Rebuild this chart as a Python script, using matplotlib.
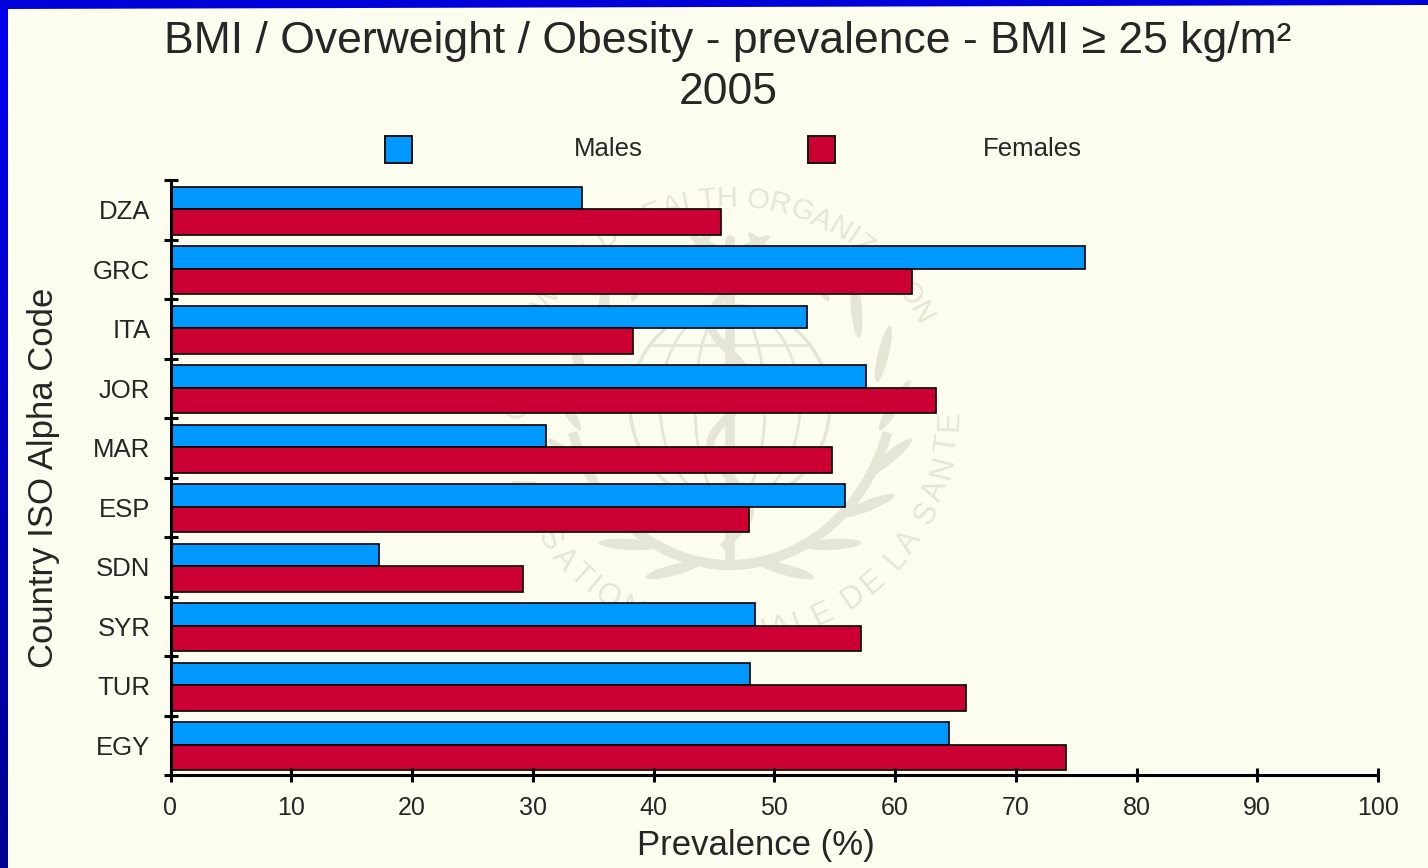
import numpy as np
import matplotlib.pyplot as plt
from matplotlib.colors import LinearSegmentedColormap
from matplotlib.patches import Rectangle, Polygon, Ellipse, Circle, Arc
from matplotlib.textpath import TextToPath
from matplotlib.font_manager import FontProperties

countries = ['DZA', 'GRC', 'ITA', 'JOR', 'MAR', 'ESP', 'SDN', 'SYR', 'TUR', 'EGY']
males = [34.1, 75.7, 52.7, 57.6, 31.1, 55.9, 17.3, 48.4, 48.0, 64.5]
females = [45.6, 61.4, 38.3, 63.4, 54.8, 47.9, 29.2, 57.2, 65.9, 74.2]
xticks = list(range(0, 101, 10))
series_names = ['Males', 'Females']

BG = '#FDFDEF'
BLUE = '#0099FF'
RED = '#CC0033'
TXT = '#262626'
MARK = '#E6E6D6'

plt.rcParams['font.family'] = ['Liberation Sans', 'DejaVu Sans']

W, H = 1428, 868
fig = plt.figure(figsize=(W / 100, H / 100), dpi=100, facecolor=BG)


def fx(x):
    return x / W


def fy(y):
    return 1 - y / H


# blue frame along the top and left edges
grad = np.linspace(0, 1, 256).reshape(-1, 1)
edge = fig.add_axes([0, 0, fx(8), 1])
edge.imshow(grad, aspect='auto', extent=[0, 1, 0, 1],
            cmap=LinearSegmentedColormap.from_list('edge', ['#0000F2', '#000090']))
edge.set_axis_off()
fig.add_artist(Polygon([(0, 1), (1, 1), (1, fy(5)), (0, fy(9))], closed=True,
                       transform=fig.transFigure, facecolor='#0000D8', edgecolor='none'))

# faint emblem behind the plot
cx, cy = 730, 415


def arc_text(text, r, a_end, em_px, size, top):
    prop = FontProperties(family='Liberation Sans', size=100)
    t2p = TextToPath()
    widths = []
    for c in text:
        if c == ' ':
            widths.append(0.28)
        else:
            widths.append(t2p.get_text_width_height_descent(c, prop, ismath=False)[0] / 100)
    widths = np.array(widths)
    mids = np.cumsum(widths) - widths / 2
    k = em_px / r * 180 / np.pi
    for c, m in zip(text, mids):
        if c == ' ':
            continue
        if top:
            a = a_end + (mids[-1] - m) * k
            rot = a - 90
        else:
            a = a_end - (mids[-1] - m) * k
            rot = a + 90
        x = cx + r * np.cos(np.radians(a))
        y = cy - r * np.sin(np.radians(a))
        fig.text(fx(x), fy(y), c, fontsize=size, color=MARK, rotation=rot,
                 rotation_mode='anchor', ha='center', va='center', zorder=-5)


arc_text('WORLD HEALTH ORGANIZATION', 216, 28, 30, 21, True)
arc_text('ORGANISATION MONDIALE DE LA SANTE', 220, -1.5, 36, 22, False)

emb = fig.add_axes([fx(cx - 200), fy(cy + 200), fx(400), 400 / H], zorder=-4)
emb.set_xlim(-200, 200)
emb.set_ylim(-200, 200)
emb.set_axis_off()
globe_r = 100
emb.add_patch(Circle((0, 10), globe_r, fill=False, edgecolor=MARK, lw=2.5))
for ew in [70, 140]:
    emb.add_patch(Ellipse((0, 10), ew, 2 * globe_r, fill=False, edgecolor=MARK, lw=2))
for yy in [-50, 10, 70]:
    half = np.sqrt(globe_r ** 2 - (yy - 10) ** 2)
    emb.plot([-half, half], [yy, yy], color=MARK, lw=2)
emb.plot([0, 0], [-150, 175], color=MARK, lw=7, solid_capstyle='round')
ts = np.linspace(-130, 150, 200)
emb.plot(20 * np.sin(ts / 20), ts, color=MARK, lw=6)
# laurel branches, drawn on the right and mirrored to the left
for ang in np.linspace(-70, 95, 10):
    t = np.radians(ang)
    lx, ly = 165 * np.cos(t), 165 * np.sin(t)
    tilt = ang + 90 - 35
    for side in [-1, 1]:
        a = tilt if side == 1 else 180 - tilt
        emb.add_patch(Ellipse((side * lx, ly), 58, 11, angle=a, facecolor=MARK, edgecolor='none'))
for side in [-1, 1]:
    emb.add_patch(Arc((0, 40), 330, 380, theta1=-115 if side == 1 else 200,
                      theta2=-20 if side == 1 else 295, edgecolor=MARK, lw=7))

# main chart
x0, x1, y0, y1 = 170.5, 1378, 180, 775
ax = fig.add_axes([fx(x0), fy(y1), fx(x1 - x0), (y1 - y0) / H])
ax.patch.set_visible(False)

pos = np.arange(len(countries))
ax.barh(pos - 0.2, males, height=0.38, color=BLUE, edgecolor='black', linewidth=1.2,
        label=series_names[0])
ax.barh(pos + 0.205, females, height=0.43, color=RED, edgecolor='black', linewidth=1.2,
        label=series_names[1])

ax.set_xlim(0, 100)
ax.set_ylim(len(countries) - 0.5, -0.5)
ax.set_xticks(xticks)
ax.set_xticklabels([str(v) for v in xticks])
ax.set_yticks(pos)
ax.set_yticklabels(countries)
ax.set_yticks(np.arange(-0.5, len(countries), 1), minor=True)

for s in ['top', 'right']:
    ax.spines[s].set_visible(False)
for s in ['left', 'bottom']:
    ax.spines[s].set_linewidth(2.2)

ax.tick_params(axis='y', which='major', length=0, pad=14.5, labelsize=18.5, labelcolor=TXT)
ax.tick_params(axis='y', which='minor', direction='inout', length=10, width=2.2)
ax.tick_params(axis='x', which='major', direction='inout', length=10, width=2.2,
               pad=10, labelsize=18, labelcolor=TXT)

ax.set_xlabel('Prevalence (%)', fontsize=25, color=TXT)
ax.xaxis.set_label_coords((756 - x0) / (x1 - x0), -(829 - y1) / (y1 - y0))
ax.set_ylabel('Country ISO Alpha Code', fontsize=25, color=TXT)
ax.yaxis.set_label_coords(-(x0 - 60) / (x1 - x0), 0.5)

# title
fig.text(fx(728), fy(53), 'BMI / Overweight / Obesity - prevalence - BMI \u2265 25 kg/m\u00b2',
         ha='center', va='baseline', fontsize=32, color=TXT)
fig.text(fx(728), fy(104), '2005', ha='center', va='baseline', fontsize=32, color=TXT)

# legend row
for (lx, tx, name, col) in [(385, 608, series_names[0], BLUE), (808, 1032, series_names[1], RED)]:
    fig.add_artist(Rectangle((fx(lx), fy(163)), fx(27), 27 / H, transform=fig.transFigure,
                             facecolor=col, edgecolor='black', linewidth=1.3))
    fig.text(fx(tx), fy(156), name, ha='center', va='baseline', fontsize=18.5, color=TXT)

fig.savefig('out.png', dpi=100, facecolor=BG)
